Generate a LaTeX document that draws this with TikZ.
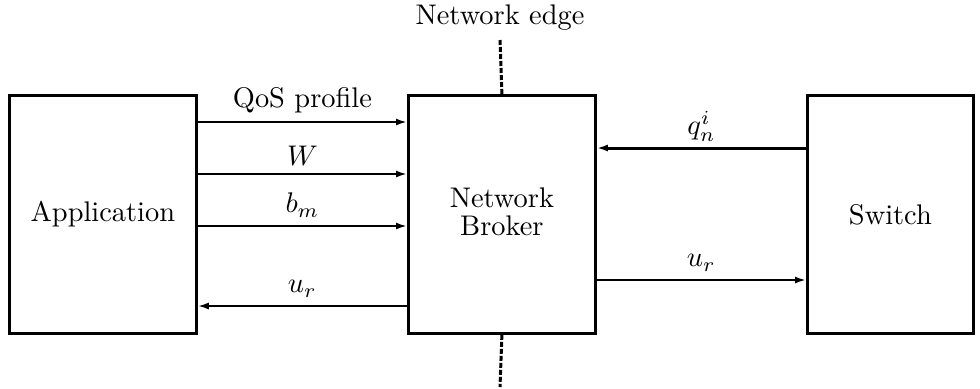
\documentclass[tikz,border=0pt]{standalone}
\usepackage{graphicx}
\usetikzlibrary{arrows.meta}
\newcommand\sctext[1]{\scalebox{1.42}{\normalsize #1}}
\tikzset{
  blk/.style={draw, line width=1.4pt, inner sep=0pt, minimum width=93.5pt, minimum height=119pt, anchor=north west},
  sig/.style={line width=1pt, -{Latex[length=5.5pt,width=3.5pt]}},
  lbl/.style={inner sep=0pt, above=4pt, midway},
  edge/.style={line width=1.5pt, dash pattern=on 2.5pt off 1pt},
}
\begin{document}
\begin{tikzpicture}[x=0.5pt,y=-0.5pt]
\useasboundingbox (0,0) rectangle (980,388);
\node[blk] (app) at (8,94) {\sctext{Application}};
\node[blk] (broker) at (407,94) {\sctext{\begin{tabular}{@{}c@{}}Network\\[-2.1pt]Broker\end{tabular}}};
\node[blk, minimum width=83pt] (sw) at (806,94) {\sctext{Switch}};
\node[inner sep=0pt] (edgelbl) at (500,18) {\sctext{Network edge}};
\coordinate (etop) at (500,40);
\coordinate (ebot) at (500,387);
\draw[edge] (etop) -- (broker.north);
\draw[edge] (broker.south) -- (ebot);
\draw[sig] (app.east |- 0,122) -- node[lbl] {\sctext{QoS profile}} (broker.west |- 0,122);
\draw[sig] (app.east |- 0,174) -- node[lbl] {\sctext{$W$}} (broker.west |- 0,174);
\draw[sig] (app.east |- 0,226) -- node[lbl] {\sctext{$b_m$}} (broker.west |- 0,226);
\draw[sig] (broker.west |- 0,306) -- node[lbl] {\sctext{$u_r$}} (app.east |- 0,306);
\draw[sig, line width=1.5pt] (sw.west |- 0,148) -- node[lbl, above=-1.5pt] {\sctext{$q_n^i$}} (broker.east |- 0,148);
\draw[sig] (broker.east |- 0,280) -- node[lbl] {\sctext{$u_r$}} (sw.west |- 0,280);
\end{tikzpicture}
\end{document}
